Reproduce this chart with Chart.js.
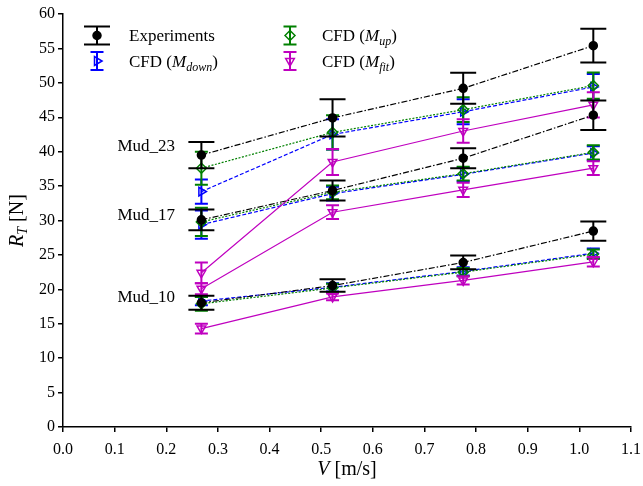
<!DOCTYPE html>
<html>
<head>
<meta charset="utf-8">
<script src="https://cdn.jsdelivr.net/npm/chart.js@4.4.1/dist/chart.umd.min.js"></script>
<style>
  html, body { margin: 0; padding: 0; background: #fff; }
</style>
</head>
<body>
<canvas id="chart" width="643" height="486"></canvas>
<script>
// 速度 (m/s)
const speeds = [0.268, 0.522, 0.775, 1.027];
const muds = ['Mud_23', 'Mud_17', 'Mud_10'];
const mudLabelY = [40.1, 30.1, 18.2];
const xTicks = [0, 0.1, 0.2, 0.3, 0.4, 0.5, 0.6, 0.7, 0.8, 0.9, 1.0, 1.1];
const yTicks = [0, 5, 10, 15, 20, 25, 30, 35, 40, 45, 50, 55, 60];

// 实验值和误差 (Mud_23, Mud_17, Mud_10)
const expVals = [[39.5, 44.9, 49.2, 55.4], [30.1, 34.35, 39.05, 45.3], [18.05, 20.55, 23.9, 28.47]];
const expErr  = [[1.9, 2.7, 2.25, 2.45], [1.5, 1.45, 1.45, 2.15], [1.0, 0.9, 1.0, 1.4]];
// CFD M_down
const downVals = [[34.2, 42.5, 45.8, 49.4], [29.4, 33.9, 36.7, 39.8], [18.3, 20.3, 22.6, 25.25]];
const downErr  = [[1.75, 2.2, 1.8, 1.9], [2.05, 1.0, 1.0, 1.0], [0.6, 0.6, 0.6, 0.7]];
// CFD M_up
const upVals = [[37.6, 42.8, 46.1, 49.6], [29.8, 34.1, 36.8, 39.9], [17.9, 20.2, 22.5, 25.1]];
const upErr  = [[2.4, 2.5, 1.8, 1.9], [2.05, 1.0, 1.0, 1.05], [1.0, 0.6, 0.6, 0.7]];
// CFD M_fit
const fitVals = [[22.4, 38.5, 43.0, 46.8], [20.1, 31.2, 34.45, 37.6], [14.3, 18.9, 21.3, 24.0]];
const fitErr  = [[1.5, 1.9, 1.7, 1.85], [0.8, 1.0, 1.05, 1.0], [0.7, 0.5, 0.6, 0.7]];

const SERIF = '"Liberation Serif", "DejaVu Serif", serif';

// order 越小越晚画 (在上面)
const styles = {
    exp:  {color: '#000000', dash: [6, 2, 1.5, 2], pointStyle: 'circle', rot: 0, radius: 4, fill: '#000000', cap: 26, order: 0},
    down: {color: '#0000ff', dash: [4, 2], pointStyle: 'triangle', rot: 90, radius: 5, fill: 'rgba(0,0,0,0)', cap: 13, order: 3},
    up:   {color: '#008000', dash: [2, 1.5], pointStyle: 'rectRot', rot: 0, radius: 5, fill: 'rgba(0,0,0,0)', cap: 13, order: 2},
    fit:  {color: '#bf00bf', dash: [], pointStyle: 'triangle', rot: 180, radius: 5, fill: 'rgba(0,0,0,0)', cap: 13, order: 1}
};

const makeSet = (key, vals, errs) => {
    const s = styles[key];
    return {
        label: key,
        data: speeds.map((v, i) => ({x: v, y: vals[i]})),
        errors: errs,
        capWidth: s.cap,
        borderColor: s.color,
        backgroundColor: s.fill,
        borderWidth: 1.2,
        borderDash: s.dash,
        pointStyle: s.pointStyle,
        pointRotation: s.rot,
        pointRadius: s.radius,
        pointBorderWidth: 1.5,
        pointBackgroundColor: s.fill,
        pointBorderColor: s.color,
        tension: 0,
        order: s.order
    };
};

const datasets = [];
muds.forEach((m, k) => {
    datasets.push(makeSet('exp', expVals[k], expErr[k]));
    datasets.push(makeSet('down', downVals[k], downErr[k]));
    datasets.push(makeSet('up', upVals[k], upErr[k]));
    datasets.push(makeSet('fit', fitVals[k], fitErr[k]));
});

// 误差棒
const errorBars = {
    id: 'errorBars',
    beforeDatasetDraw(chart, args) {
        const ds = chart.data.datasets[args.index];
        if (!ds.errors) return;
        const {ctx, scales: {x, y}} = chart;
        ctx.save();
        ctx.strokeStyle = ds.borderColor;
        ctx.lineWidth = 2;
        ctx.setLineDash([]);
        ds.data.forEach((p, i) => {
            const px = x.getPixelForValue(p.x);
            const top = y.getPixelForValue(p.y + ds.errors[i]);
            const bot = y.getPixelForValue(p.y - ds.errors[i]);
            const hw = ds.capWidth / 2;
            ctx.beginPath();
            ctx.moveTo(px, top); ctx.lineTo(px, bot);
            ctx.moveTo(px - hw, top); ctx.lineTo(px + hw, top);
            ctx.moveTo(px - hw, bot); ctx.lineTo(px + hw, bot);
            ctx.stroke();
        });
        ctx.restore();
    }
};

// 混合字体文字
const drawRich = (ctx, parts, x, y, align) => {
    let total = 0;
    parts.forEach(p => { ctx.font = p.font; total += ctx.measureText(p.t).width; });
    let cx = align === 'center' ? x - total / 2 : (align === 'right' ? x - total : x);
    ctx.textAlign = 'left';
    ctx.textBaseline = 'alphabetic';
    parts.forEach(p => {
        ctx.font = p.font;
        ctx.fillText(p.t, cx, y + (p.dy || 0));
        cx += ctx.measureText(p.t).width;
    });
};

const drawIcon = (ctx, key, cx, cy) => {
    const s = styles[key];
    ctx.save();
    ctx.strokeStyle = s.color;
    ctx.lineWidth = 2;
    ctx.beginPath();
    ctx.moveTo(cx, cy - 9); ctx.lineTo(cx, cy + 9);
    ctx.moveTo(cx - s.cap / 2, cy - 9); ctx.lineTo(cx + s.cap / 2, cy - 9);
    ctx.moveTo(cx - s.cap / 2, cy + 9); ctx.lineTo(cx + s.cap / 2, cy + 9);
    ctx.stroke();
    ctx.fillStyle = s.fill;
    ctx.lineWidth = 1.5;
    Chart.helpers.drawPoint(ctx, {pointStyle: s.pointStyle, radius: s.radius, rotation: s.rot, borderWidth: 1.5}, cx, cy);
    ctx.restore();
};

const annotations = {
    id: 'annotations',
    afterDraw(chart) {
        const {ctx, scales: {x, y}, chartArea} = chart;
        ctx.save();
        ctx.fillStyle = '#000';
        const f = `17px ${SERIF}`, fi = `italic 17px ${SERIF}`, fs = `italic 12px ${SERIF}`;

        // Mud 标签
        muds.forEach((m, k) => {
            drawRich(ctx, [{t: m, font: f}], x.getPixelForValue(0.217), y.getPixelForValue(mudLabelY[k]), 'right');
        });

        // 图例
        drawIcon(ctx, 'exp', 97, 35.5);
        drawIcon(ctx, 'down', 97, 61);
        drawIcon(ctx, 'up', 290, 35.5);
        drawIcon(ctx, 'fit', 290, 61);
        ctx.fillStyle = '#000';
        drawRich(ctx, [{t: 'Experiments', font: f}], 129, 41, 'left');
        drawRich(ctx, [{t: 'CFD (', font: f}, {t: 'M', font: fi}, {t: 'down', font: fs, dy: 4}, {t: ')', font: f}], 129, 66.5, 'left');
        drawRich(ctx, [{t: 'CFD (', font: f}, {t: 'M', font: fi}, {t: 'up', font: fs, dy: 4}, {t: ')', font: f}], 322, 41, 'left');
        drawRich(ctx, [{t: 'CFD (', font: f}, {t: 'M', font: fi}, {t: 'fit', font: fs, dy: 4}, {t: ')', font: f}], 322, 66.5, 'left');

        // 坐标轴标题
        const t = `20px ${SERIF}`, ti = `italic 20px ${SERIF}`, ts = `italic 14px ${SERIF}`;
        drawRich(ctx, [{t: 'V', font: ti}, {t: ' [m/s]', font: t}], (chartArea.left + chartArea.right) / 2, 475, 'center');
        ctx.translate(23, (chartArea.top + chartArea.bottom) / 2);
        ctx.rotate(-Math.PI / 2);
        drawRich(ctx, [{t: 'R', font: ti}, {t: 'T', font: ts, dy: 4}, {t: ' [N]', font: t}], 0, 0, 'center');
        ctx.restore();
    }
};

new Chart(document.getElementById('chart').getContext('2d'), {
    type: 'line',
    data: {datasets: datasets},
    options: {
        responsive: false,
        animation: false,
        layout: {padding: {left: 0, right: 12, top: 14, bottom: 0}},
        plugins: {legend: {display: false}, tooltip: {enabled: false}},
        scales: {
            x: {
                type: 'linear', min: 0, max: 1.1,
                afterFit: s => { s.height = 59; s.paddingLeft = 0; s.paddingRight = 0; },
                afterBuildTicks: s => { s.ticks = xTicks.map(v => ({value: v})); },
                ticks: {color: '#000', font: {family: SERIF, size: 16}, padding: 8, maxRotation: 0, autoSkip: false,
                    callback: v => v.toFixed(1)},
                grid: {drawOnChartArea: false, drawTicks: true, tickLength: 5, color: '#000', lineWidth: 1.5},
                border: {display: true, color: '#000', width: 1.5}
            },
            y: {
                type: 'linear', min: 0, max: 60,
                afterFit: s => { s.width = 63; s.paddingTop = 0; s.paddingBottom = 0; },
                afterBuildTicks: s => { s.ticks = yTicks.map(v => ({value: v})); },
                ticks: {color: '#000', font: {family: SERIF, size: 16}, padding: 3, autoSkip: false},
                grid: {drawOnChartArea: false, drawTicks: true, tickLength: 5, color: '#000', lineWidth: 1.5},
                border: {display: true, color: '#000', width: 1.5}
            }
        }
    },
    plugins: [errorBars, annotations]
});
</script>
</body>
</html>
